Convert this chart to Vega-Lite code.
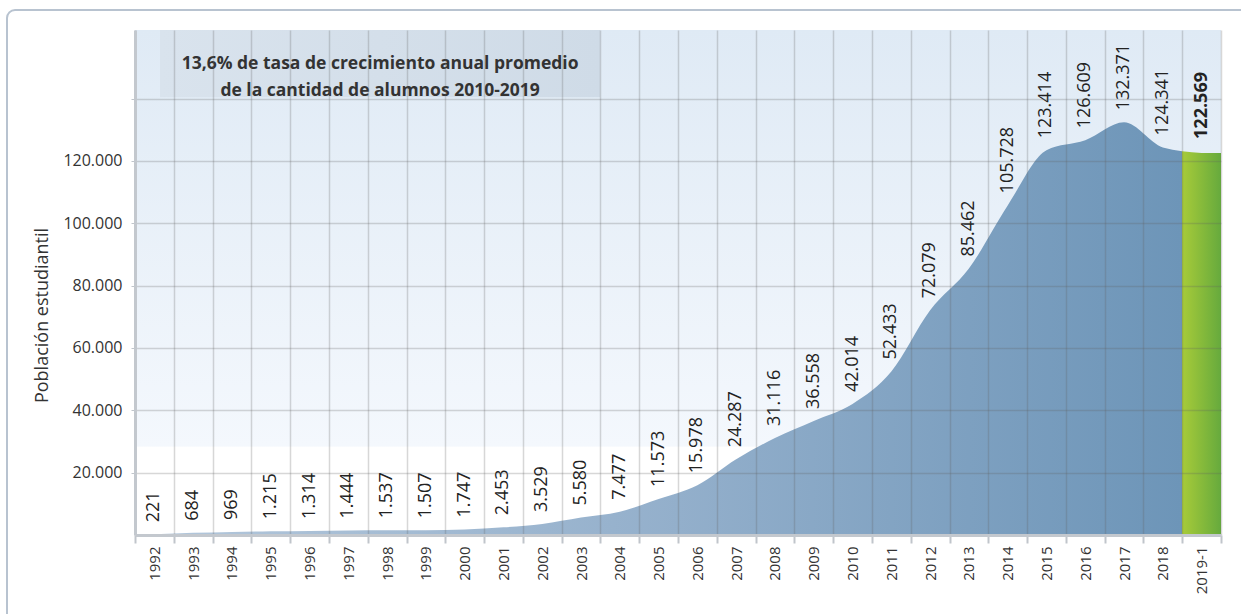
{
  "$schema": "https://vega.github.io/schema/vega-lite/v6.json",
  "width": 1086,
  "height": 505,
  "autosize": {"type": "none"},
  "padding": {"left": 135, "top": 30, "right": 20, "bottom": 79},
  "background": "white",
  "view": {
    "stroke": null,
    "fill": {
      "gradient": "linear", "x1": 0, "y1": 0, "x2": 0, "y2": 1,
      "stops": [
        {"offset": 0, "color": "#dfeaf5"},
        {"offset": 0.824, "color": "#f4f8fd"},
        {"offset": 0.826, "color": "#ffffff"},
        {"offset": 1, "color": "#ffffff"}
      ]
    }
  },
  "config": {
    "font": "Open Sans",
    "locale": {"number": {"decimal": ",", "thousands": ".", "grouping": [3], "currency": ["$", ""]}}
  },
  "data": {
    "values": [
      {"label": "1992", "value": 221},
      {"label": "1993", "value": 684},
      {"label": "1994", "value": 969},
      {"label": "1995", "value": 1215},
      {"label": "1996", "value": 1314},
      {"label": "1997", "value": 1444},
      {"label": "1998", "value": 1537},
      {"label": "1999", "value": 1507},
      {"label": "2000", "value": 1747},
      {"label": "2001", "value": 2453},
      {"label": "2002", "value": 3529},
      {"label": "2003", "value": 5580},
      {"label": "2004", "value": 7477},
      {"label": "2005", "value": 11573},
      {"label": "2006", "value": 15978},
      {"label": "2007", "value": 24287},
      {"label": "2008", "value": 31116},
      {"label": "2009", "value": 36558},
      {"label": "2010", "value": 42014},
      {"label": "2011", "value": 52433},
      {"label": "2012", "value": 72079},
      {"label": "2013", "value": 85462},
      {"label": "2014", "value": 105728},
      {"label": "2015", "value": 123414},
      {"label": "2016", "value": 126609},
      {"label": "2017", "value": 132371},
      {"label": "2018", "value": 124341},
      {"label": "2019-1", "value": 122569}
    ]
  },
  "layer": [
    {
      "layer": [
        {
          "mark": {
            "type": "area",
            "interpolate": "monotone",
            "stroke": null,
            "fill": {
              "gradient": "linear", "x1": 0, "y1": 0, "x2": 1, "y2": 0,
              "stops": [
                {"offset": 0, "color": "#b3c7db"},
                {"offset": 0.5, "color": "#93afcb"},
                {"offset": 0.9813, "color": "#6d95b8"},
                {"offset": 0.9816, "color": "#a7cb39"},
                {"offset": 1, "color": "#8abc3a"}
              ]
            }
          },
          "encoding": {
            "x": {
              "field": "label", "type": "ordinal", "bandPosition": 0.5,
              "scale": {"type": "band", "paddingInner": 0, "paddingOuter": 0},
              "axis": {
                "title": null,
                "tickBand": "extent",
                "labelAngle": 270,
                "labelAlign": "right",
                "labelBaseline": "middle",
                "labelFontSize": 15,
                "labelColor": "#333333",
                "labelPadding": 3,
                "tickSize": 8,
                "tickColor": "#c0c5cb",
                "tickWidth": 2,
                "domainColor": "#c3c8ce",
                "domainWidth": 3,
                "grid": true,
                "gridColor": "#606060",
                "gridOpacity": 0.25,
                "gridWidth": 1.5,
                "zindex": 1
              }
            },
            "y": {
              "field": "value", "type": "quantitative",
              "scale": {"domain": [0, 162000], "nice": false, "zero": true},
              "axis": {
                "title": "Población estudiantil",
                "titleFontSize": 18,
                "titleFontWeight": "normal",
                "titleColor": "#333333",
                "titleX": -93,
                "titleY": 285,
                "titleAlign": "center",
                "titleBaseline": "middle",
                "values": [20000, 40000, 60000, 80000, 100000, 120000, 140000],
                "format": ",d",
                "labelExpr": "datum.value > 130000 ? '' : datum.label",
                "labelFontSize": 16,
                "labelColor": "#333333",
                "labelPadding": 9,
                "tickSize": 4,
                "tickColor": "#c0c5cb",
                "domainColor": "#c3c8ce",
                "domainWidth": 3,
                "grid": true,
                "gridColor": "#606060",
                "gridOpacity": 0.25,
                "gridWidth": 1.5,
                "zindex": 1
              }
            }
          }
        },
        {
          "transform": [{"filter": "datum.label == '2019-1'"}],
          "mark": {
            "type": "bar",
            "stroke": null,
            "fill": {
              "gradient": "linear", "x1": 0, "y1": 0, "x2": 1, "y2": 0,
              "stops": [
                {"offset": 0, "color": "#a7cb39"},
                {"offset": 1, "color": "#66aa3d"}
              ]
            }
          },
          "encoding": {
            "x": {"field": "label", "type": "ordinal"},
            "y": {"field": "value", "type": "quantitative"}
          }
        },
        {
          "transform": [{"filter": "datum.label != '2019-1'"}],
          "mark": {"type": "text", "angle": 270, "align": "left", "baseline": "middle", "dx": 12, "fontSize": 18, "color": "#222222", "zindex": 2},
          "encoding": {
            "x": {"field": "label", "type": "ordinal", "bandPosition": 0.5},
            "y": {"field": "value", "type": "quantitative"},
            "text": {"field": "value", "type": "quantitative", "format": ",d"}
          }
        },
        {
          "transform": [{"filter": "datum.label == '2019-1'"}],
          "mark": {"type": "text", "angle": 270, "align": "left", "baseline": "middle", "dx": 14, "fontSize": 18, "fontWeight": "bold", "color": "#222222", "zindex": 2},
          "encoding": {
            "x": {"field": "label", "type": "ordinal", "bandPosition": 0.5},
            "y": {"field": "value", "type": "quantitative"},
            "text": {"field": "value", "type": "quantitative", "format": ",d"}
          }
        }
      ]
    },
    {
      "data": {"values": [{}]},
      "layer": [
        {
          "mark": {"type": "rect", "filled": false, "stroke": "#b8c3d0", "strokeWidth": 2, "cornerRadius": 8, "clip": false},
          "encoding": {
            "x": {"datum": 1988.2, "type": "quantitative", "scale": {"domain": [1991.5, 2019.5], "nice": false, "zero": false}, "axis": null},
            "x2": {"datum": 2023},
            "y": {"datum": 168400, "type": "quantitative"},
            "y2": {"datum": -40000}
          }
        },
        {
          "mark": {
            "type": "rect", "stroke": null, "zindex": 3,
            "fill": {
              "gradient": "linear", "x1": 0, "y1": 0, "x2": 1, "y2": 0,
              "stops": [
                {"offset": 0, "color": "#d9e3ed"},
                {"offset": 1, "color": "#cfdbe7"}
              ]
            }
          },
          "encoding": {
            "x": {"datum": 1992.145, "type": "quantitative", "scale": {"domain": [1991.5, 2019.5], "nice": false, "zero": false}, "axis": null},
            "x2": {"datum": 2003.49},
            "y": {"datum": 140400, "type": "quantitative"},
            "y2": {"datum": 162000}
          }
        },
        {
          "mark": {
            "type": "text",
            "text": ["13,6% de tasa de crecimiento anual promedio", "de la cantidad de alumnos 2010-2019"],
            "fontSize": 17.5, "fontWeight": "bold", "color": "#333333",
            "lineHeight": 27, "align": "center", "baseline": "middle", "zindex": 4
          },
          "encoding": {
            "x": {"datum": 1997.82, "type": "quantitative", "scale": {"domain": [1991.5, 2019.5], "nice": false, "zero": false}, "axis": null},
            "y": {"datum": 151200, "type": "quantitative"}
          }
        }
      ]
    }
  ],
  "resolve": {"scale": {"x": "independent"}, "axis": {"x": "independent"}}
}
